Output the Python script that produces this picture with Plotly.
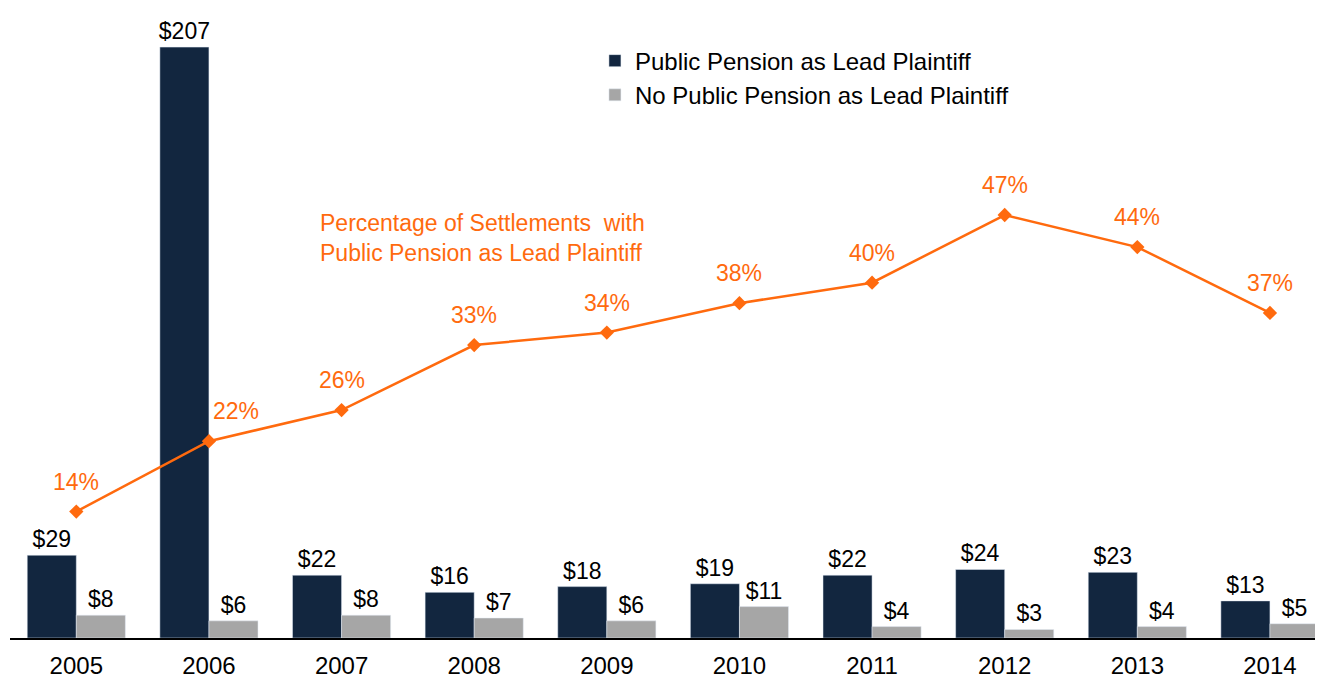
import plotly.graph_objects as go

years = ['2005', '2006', '2007', '2008', '2009', '2010', '2011', '2012', '2013', '2014']
public_pension = [29, 207, 22, 16, 18, 19, 22, 24, 23, 13]
no_public_pension = [8, 6, 8, 7, 6, 11, 4, 3, 4, 5]
pct_public = [14.2, 22.1, 25.6, 32.9, 34.3, 37.6, 39.9, 47.5, 43.9, 36.5]
pct_labels = ['14%', '22%', '26%', '33%', '34%', '38%', '40%', '47%', '44%', '37%']

NAVY = '#12263F'
GRAY = '#A6A6A6'
ORANGE = '#FF6A0E'
FONT = 'Liberation Sans, Arial, sans-serif'

fig = go.Figure()

fig.add_trace(go.Bar(
    x=years, y=public_pension,
    name='Public Pension as Lead Plaintiff',
    marker_color=NAVY,
    text=[f'${v}' for v in public_pension],
    textposition='outside',
    textfont=dict(size=23, color='black'),
    constraintext='none',
    cliponaxis=False,
))
fig.add_trace(go.Bar(
    x=years, y=no_public_pension,
    name='No Public Pension as Lead Plaintiff',
    marker_color=GRAY,
    text=[f'${v}' for v in no_public_pension],
    textposition='outside',
    textfont=dict(size=23, color='black'),
    constraintext='none',
    cliponaxis=False,
))

# pourcentage sur axe secondaire
fig.add_trace(go.Scatter(
    x=years, y=pct_public,
    yaxis='y2',
    mode='lines+markers',
    line=dict(color=ORANGE, width=2.5),
    marker=dict(symbol='diamond', size=11, color=ORANGE),
    showlegend=False,
    cliponaxis=False,
))

# axe catégoriel : les annotations prennent l'indice de la catégorie
for i, (p, lab) in enumerate(zip(pct_public, pct_labels)):
    fig.add_annotation(
        x=i, y=p, xref='x', yref='y2', text=lab, showarrow=False,
        yshift=30, xshift=27 if i == 1 else 0,
        font=dict(size=23, color=ORANGE, family=FONT),
    )

fig.add_annotation(
    x=0.2346, y=0.647, xref='paper', yref='paper',
    xanchor='left', yanchor='middle', align='left',
    text='Percentage of Settlements  with<br>Public Pension as Lead Plaintiff',
    showarrow=False,
    font=dict(size=23, color=ORANGE, family=FONT),
)

hidden = dict(showgrid=False, showline=False, showticklabels=False,
              zeroline=False, ticks='')

fig.update_layout(
    width=1323, height=679,
    # la page ajoute 8 px de marge autour du graphique
    margin=dict(l=2, r=8, t=12, b=49),
    plot_bgcolor='white',
    paper_bgcolor='white',
    font=dict(family=FONT, size=24, color='black'),
    barmode='group',
    bargap=0.26,
    bargroupgap=0,
    showlegend=True,
    legend=dict(
        x=0.4455, y=0.97, xanchor='left', yanchor='top',
        font=dict(size=24, color='black'),
        bgcolor='rgba(0,0,0,0)',
    ),
    xaxis=dict(
        range=[-0.5, 9.4],
        showline=True, linecolor='black', linewidth=1.5,
        showgrid=False, ticks='',
        ticklabelstandoff=5,
        tickfont=dict(size=24),
    ),
    yaxis=dict(range=[0, 216.5], **hidden),
    yaxis2=dict(range=[0, 69.4], overlaying='y', **hidden),
)

fig.write_html("out.html")
